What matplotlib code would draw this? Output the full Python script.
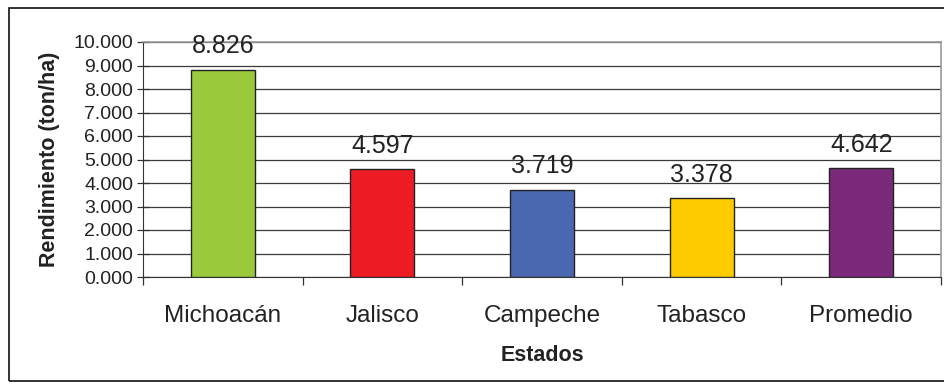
import matplotlib
matplotlib.use("Agg")
from matplotlib import pyplot as plt
from matplotlib.patches import Rectangle
from matplotlib.ticker import FuncFormatter, MultipleLocator

estados = ["Michoacán", "Jalisco", "Campeche", "Tabasco", "Promedio"]
rendimiento = [8.826, 4.597, 3.719, 3.378, 4.642]
colores = ["#9ACA3C", "#ED1C24", "#4A68B0", "#FFCC00", "#7B2A7B"]

plt.rcParams["font.family"] = ["Liberation Sans", "DejaVu Sans"]

fig = plt.figure(figsize=(9.45, 3.87), dpi=100)
ax = fig.add_axes([143 / 945, 1 - 277 / 387, 798 / 945, 235 / 387])

# marco exterior del gráfico
fig.patches.append(Rectangle((9 / 945, 6 / 387), 0.995, 1 - 14 / 387,
                             transform=fig.transFigure, fill=False,
                             edgecolor="#111111", linewidth=1.2))

x = range(len(estados))
ax.bar(x, rendimiento, width=0.4, color=colores, edgecolor="#222222",
       linewidth=1.0, zorder=3)

for i, v in zip(x, rendimiento):
    ax.annotate(f"{v:.3f}", (i, v), xytext=(0, 8), textcoords="offset points",
                ha="center", va="bottom", fontsize=18, color="#222222")

ax.set_xlim(-0.5, len(estados) - 0.5)
ax.set_ylim(0, 10)
ax.yaxis.set_major_locator(MultipleLocator(1))
ax.yaxis.set_major_formatter(FuncFormatter(lambda v, p: f"{v:.3f}"))
ax.grid(axis="y", color="#3a3a3a", linewidth=0.9, zorder=0)

ax.set_xticks(list(x))
ax.set_xticklabels(estados, fontsize=17.5, color="#222222")
ax.set_xticks([i - 0.5 for i in range(len(estados) + 1)], minor=True)
ax.tick_params(axis="x", which="major", length=0, pad=20)
ax.tick_params(axis="x", which="minor", length=6, width=0.9, color="#333333")
ax.tick_params(axis="y", direction="inout", length=8, width=0.9,
               labelsize=14, color="#333333", labelcolor="#222222", pad=3)

for s in ["top", "right"]:
    ax.spines[s].set_color("#999999")
    ax.spines[s].set_linewidth(1.2)
ax.spines["left"].set_color("#333333")
ax.spines["bottom"].set_color("#333333")

ax.set_ylabel("Rendimiento (ton/ha)", fontsize=15.5, fontweight="bold",
              color="#222222", labelpad=10)
ax.set_xlabel("Estados", fontsize=15.5, fontweight="bold", color="#222222",
              labelpad=13)

fig.savefig("out.png", dpi=100)
